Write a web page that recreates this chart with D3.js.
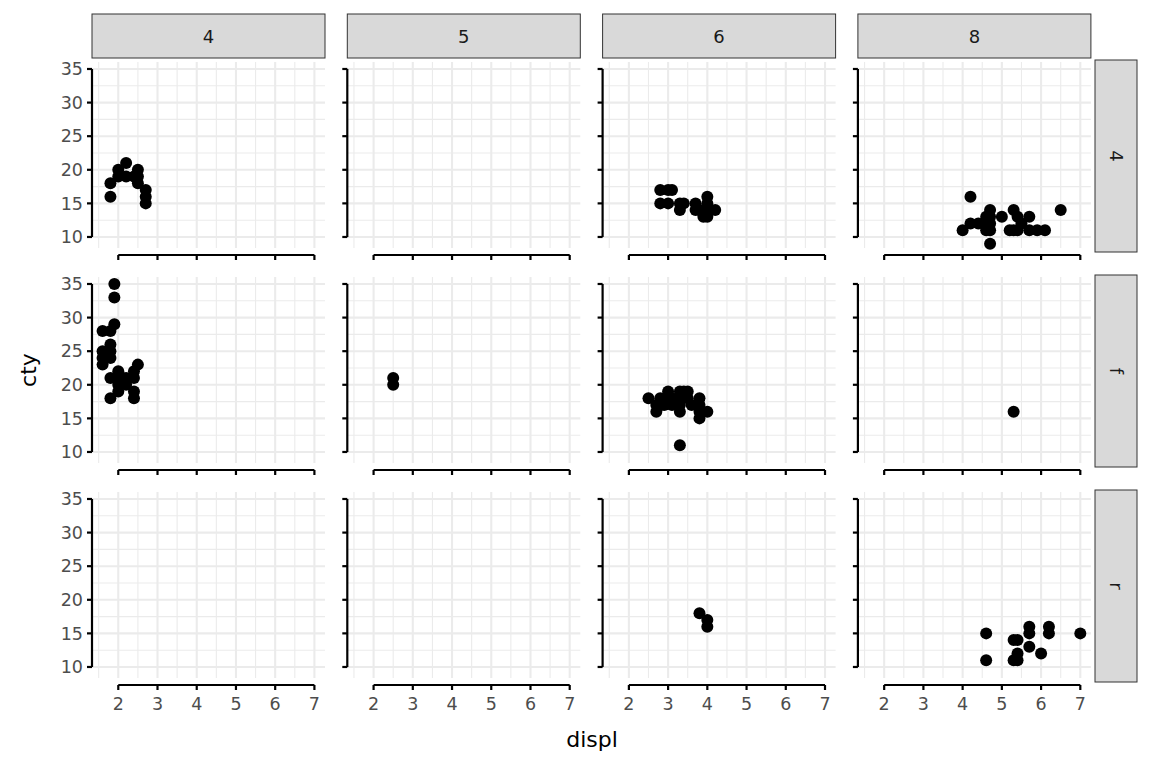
<!DOCTYPE html><html><head><meta charset="utf-8">
<script src="https://cdn.jsdelivr.net/npm/d3@7"></script>
<style>body{margin:0;background:#fff}text{font-family:"DejaVu Sans",sans-serif}</style></head><body>
<svg id="c" width="1152" height="768"></svg>
<script>
const cyls=["4","5","6","8"];
const drvs=["4","f","r"];
const xTicks=[2,3,4,5,6,7];
const yTicks=[10,15,20,25,30,35];
const pts4_4=[[1.8,18],[1.8,16],[2.0,20],[2.0,19],[2.2,21],[2.2,19],[2.5,20],[2.5,19],[2.5,18],[2.7,17],[2.7,16],[2.7,15],[2.4,19]];
const pts4_6=[[2.8,17],[2.8,15],[3.0,17],[3.1,17],[3.0,15],[3.3,14],[3.3,15],[3.4,15],[3.7,14],[3.7,15],[3.8,14],[4.0,13],[4.0,14],[4.0,15],[4.0,16],[4.2,14],[3.9,13]];
const pts4_8=[[4.0,11],[4.2,16],[4.2,12],[4.4,12],[4.6,12],[4.6,13],[4.7,14],[4.7,13],[4.7,12],[4.7,11],[4.7,9],[5.0,13],[5.2,11],[5.3,14],[5.3,11],[5.4,13],[5.4,11],[5.7,13],[5.7,11],[5.9,11],[6.1,11],[6.5,14],[5.5,12],[4.6,11]];
const ptsf_4=[[1.9,35],[1.9,33],[1.9,29],[1.6,28],[1.8,28],[1.8,26],[1.8,25],[1.6,25],[1.6,24],[1.6,23],[1.8,24],[1.8,21],[2.0,22],[2.0,21],[2.0,20],[2.0,19],[1.8,18],[2.2,21],[2.2,20],[2.5,23],[2.4,22],[2.4,21],[2.4,19],[2.4,18],[2.1,21]];
const ptsf_5=[[2.5,21],[2.5,20]];
const ptsf_6=[[2.5,18],[2.7,17],[2.8,18],[2.8,17],[2.7,16],[3.0,18],[3.0,19],[3.1,18],[3.1,17],[3.3,19],[3.3,18],[3.3,17],[3.3,16],[3.4,19],[3.5,18],[3.5,19],[3.6,17],[3.8,18],[3.8,17],[3.8,16],[3.8,15],[4.0,16],[3.3,11],[2.9,17]];
const ptsf_8=[[5.3,16]];
const ptsr_6=[[3.8,18],[4.0,17],[4.0,16]];
const ptsr_8=[[4.6,15],[4.6,11],[5.4,14],[5.3,14],[5.4,12],[5.4,11],[5.3,11],[5.7,16],[5.7,15],[5.7,13],[6.0,12],[6.2,16],[6.2,15],[7.0,15]];
const data={"4|4":pts4_4,"4|6":pts4_6,"4|8":pts4_8,"f|4":ptsf_4,"f|5":ptsf_5,"f|6":ptsf_6,"f|8":ptsf_8,"r|6":ptsr_6,"r|8":ptsr_8};

const svg=d3.select("#c");
const colX0=92, colStep=255.3, pw=233;
const rowY0=62, rowStep=215, ph=186;
const x=d3.scaleLinear().domain([1.33,7.27]).range([0,pw]);
const y=d3.scaleLinear().domain([8.36,36.04]).range([ph,0]);
cyls.forEach((c,ci)=>{
  const sx=colX0+ci*colStep;
  const st=svg.append("g").attr("transform",`translate(${sx},14)`);
  st.append("rect").attr("width",pw).attr("height",44).attr("fill","#d9d9d9").attr("stroke","#333").attr("stroke-width",1);
  st.append("text").attr("x",pw/2).attr("y",29).attr("text-anchor","middle").attr("font-size",18).attr("fill","#1a1a1a").text(c);
  drvs.forEach((dv,ri)=>{
    const sy=rowY0+ri*rowStep;
    const g=svg.append("g").attr("transform",`translate(${sx},${sy})`);
    [1.5,2.5,3.5,4.5,5.5,6.5].forEach(v=>g.append("line").attr("x1",x(v)).attr("x2",x(v)).attr("y1",0).attr("y2",ph).attr("stroke","#ebebeb").attr("stroke-width",1.1));
    [12.5,17.5,22.5,27.5,32.5].forEach(v=>g.append("line").attr("y1",y(v)).attr("y2",y(v)).attr("x1",0).attr("x2",pw).attr("stroke","#ebebeb").attr("stroke-width",1.1));
    xTicks.forEach(v=>g.append("line").attr("x1",x(v)).attr("x2",x(v)).attr("y1",0).attr("y2",ph).attr("stroke","#ebebeb").attr("stroke-width",2.1));
    yTicks.forEach(v=>g.append("line").attr("y1",y(v)).attr("y2",y(v)).attr("x1",0).attr("x2",pw).attr("stroke","#ebebeb").attr("stroke-width",2.1));
    (data[dv+"|"+c]||[]).forEach(p=>g.append("circle").attr("cx",x(p[0])).attr("cy",y(p[1])).attr("r",6).attr("fill","#000"));
    const ya=g.append("g");
    ya.append("line").attr("x1",0).attr("x2",0).attr("y1",y(35)).attr("y2",y(10)).attr("stroke","#000").attr("stroke-width",2.2);
    yTicks.forEach(v=>{
      ya.append("line").attr("x1",-5).attr("x2",0).attr("y1",y(v)).attr("y2",y(v)).attr("stroke","#000").attr("stroke-width",2.2);
      if(ci===0) ya.append("text").attr("x",-9).attr("y",y(v)).attr("dy","0.36em").attr("text-anchor","end").attr("font-size",17.5).attr("fill","#4d4d4d").text(v);
    });
    const ax=g.append("g").attr("transform",`translate(0,${ph+7})`);
    ax.append("line").attr("x1",x(2)).attr("x2",x(7)).attr("y1",0).attr("y2",0).attr("stroke","#000").attr("stroke-width",2.2);
    xTicks.forEach(v=>{
      ax.append("line").attr("x1",x(v)).attr("x2",x(v)).attr("y1",0).attr("y2",5).attr("stroke","#000").attr("stroke-width",2.2);
      if(ri===2) ax.append("text").attr("x",x(v)).attr("y",25).attr("text-anchor","middle").attr("font-size",17.5).attr("fill","#4d4d4d").text(v);
    });
  });
});
drvs.forEach((dv,ri)=>{
  const sy=rowY0-2+ri*rowStep;
  const g=svg.append("g").attr("transform",`translate(1095,${sy})`);
  g.append("rect").attr("width",42).attr("height",192).attr("fill","#d9d9d9").attr("stroke","#333");
  g.append("text").attr("transform",`translate(15,96) rotate(90)`).attr("text-anchor","middle").attr("font-size",18).attr("fill","#1a1a1a").text(dv);
});
svg.append("text").attr("x",592).attr("y",747).attr("text-anchor","middle").attr("font-size",22).text("displ");
svg.append("text").attr("transform","translate(36,370) rotate(-90)").attr("text-anchor","middle").attr("font-size",22).text("cty");
</script></body></html>
